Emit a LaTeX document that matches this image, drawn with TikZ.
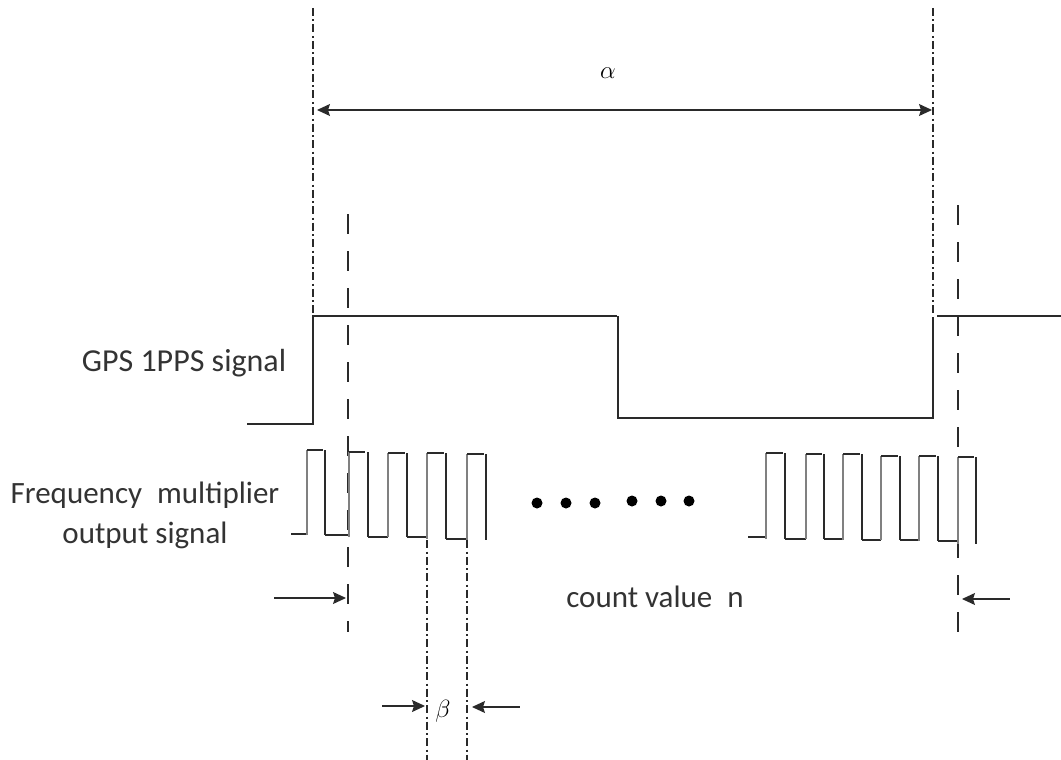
\documentclass[tikz,border=0pt]{standalone}
\usepackage{fontspec}
\setmainfont{Carlito}
\usepackage{tikz}
\usetikzlibrary{arrows.meta, positioning, calc}
\definecolor{LineBlack}{HTML}{2A2A2A}
\definecolor{RiseGray}{HTML}{808080}
\definecolor{TextGray}{HTML}{333333}

\begin{document}
\begin{tikzpicture}[
    x=1pt, y=-1pt, >=Stealth,
    tip/.tip={Stealth[length=13pt,width=12pt,inset=2pt]},
    wave/.style={draw=LineBlack, line width=1.25pt},
    rise/.style={draw=RiseGray, line width=1.7pt},
    fall/.style={draw=LineBlack, line width=1.1pt},
    dashdot/.style={draw=LineBlack, line width=1.1pt, dash pattern=on 8pt off 3.5pt on 2pt off 3pt},
    longdash/.style={draw=LineBlack, line width=1.1pt, dash pattern=on 20pt off 17pt},
    a/.style={tip-, draw=LineBlack, line width=1.2pt},
    lab/.style={align=center, inner sep=0pt, text=TextGray, font=\fontsize{31}{40}\selectfont},
    sym/.style={inner sep=0pt, text=black, font=\fontsize{25}{28}\selectfont},
    dot/.style={circle, fill=black, inner sep=0pt, minimum size=11pt},
  ]
    \useasboundingbox (0,0) rectangle (1061,760);

    % guide lines
    \draw[dashdot] (313,8) -- (313,316);
    \draw[dashdot] (933,8) -- (933,316);
    \draw[longdash] (348,214) -- (348,632);
    \draw[longdash] (958,205) -- (958,632);
    \draw[dashdot] (427,540) -- (427,760);
    \draw[dashdot] (467,540) -- (467,760);

    % alpha span
    \coordinate (alphaL) at (317,110);
    \coordinate (alphaR) at (932,110);
    \node[sym] (alpha) at (608,73) {$\alpha$};
    \draw[a, tip-tip] (alphaL) -- (alphaR);

    % GPS signal
    \node[lab, anchor=base, font=\fontsize{32}{40}\selectfont] (gps) at (184,371) {GPS 1PPS signal};
    \draw[wave] (247,424) -- (313,424) -- (313,316) -- (617,316);
    \draw[wave] (618,316) -- (618,418) -- (933,418) -- (933,317);
    \draw[wave] (937,316) -- (1061,316);

    % multiplier output, left group: rise x, top, end of top, fall x, bottom, end of low
    \node[lab] (freq) at (145,515) {Frequency\hspace{8pt} multiplier\\output signal};
    \draw[wave] (291,534) -- (307,534);
    \foreach \rx/\ty/\tx/\fx/\by/\lx in {
        307/450/323/325/535/348,
        349/452/365/368/537/388,
        388/453/405/407/537/426,
        427/453/444/446/539/467,
        467/454/484/486/540/486} {
      \draw[rise] (\rx,\by) -- (\rx,\ty);
      \draw[wave] (\rx,\ty) -- (\tx,\ty);
      \draw[fall] (\fx,\ty) -- (\fx,\by);
      \draw[wave] (\fx,\by) -- (\lx,\by);
    }

    % dots
    \foreach \dx/\dy [count=\i] in {537/503,566/503,595/503,632/501,661/501,689/501}
      \node[dot] (d\i) at (\dx,\dy) {};

    % multiplier output, right group
    \draw[wave] (748,537) -- (766,537);
    \foreach \rx/\ty/\tx/\fx/\by/\lx in {
        766/453/783/785/539/806,
        806/454/822/824/539/843,
        843/454/860/862/540/881,
        881/456/898/900/540/919,
        919/456/936/938/541/958,
        958/457/974/976/544/976} {
      \draw[rise] (\rx,\by) -- (\rx,\ty);
      \draw[wave] (\rx,\ty) -- (\tx,\ty);
      \draw[fall] (\fx,\ty) -- (\fx,\by);
      \draw[wave] (\fx,\by) -- (\lx,\by);
    }

    \node[lab, anchor=base] (count) at (655,607) {count value\hspace{8pt} n};

    % offset arrows
    \coordinate (leftTip) at (346,598);
    \coordinate (leftEnd) at (274,598);
    \coordinate (rightTip) at (962,599);
    \coordinate (rightEnd) at (1010,599);
    \draw[a] (leftTip) -- (leftEnd);
    \draw[a] (rightTip) -- (rightEnd);

    % beta span
    \node[sym] (beta) at (443,711) {$\beta$};
    \coordinate (betaL) at (425,706);
    \coordinate (betaLend) at (382,706);
    \coordinate (betaR) at (472,707);
    \coordinate (betaRend) at (520,707);
    \draw[a] (betaL) -- (betaLend);
    \draw[a] (betaR) -- (betaRend);
  \end{tikzpicture}
\end{document}
